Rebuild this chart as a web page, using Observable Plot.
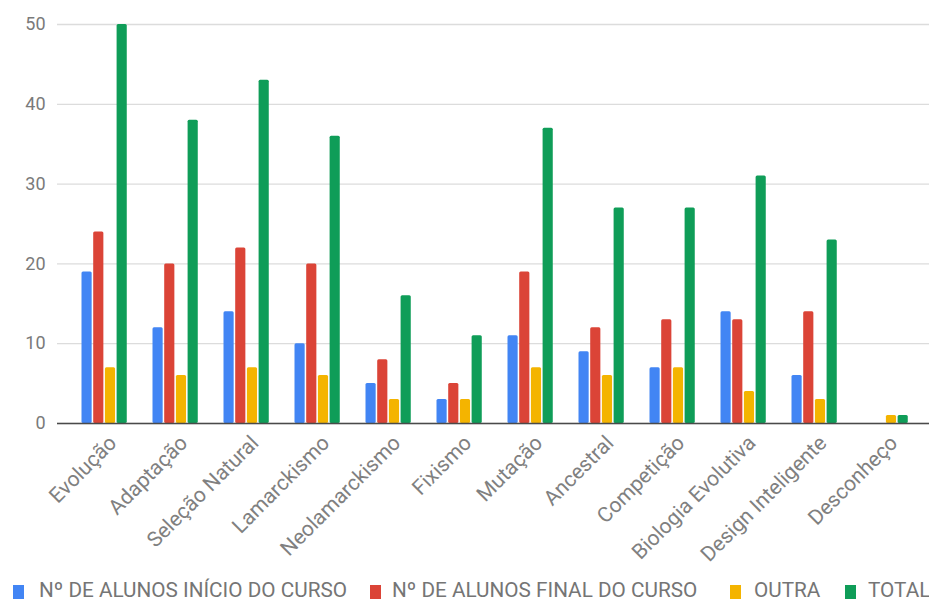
<!DOCTYPE html>
<html>
<head>
<meta charset="utf-8">
<script src="https://cdn.jsdelivr.net/npm/d3@7"></script>
<script src="https://cdn.jsdelivr.net/npm/@observablehq/plot@0.6"></script>
<style>
  body { margin: 0; background: #fff; font-family: Roboto, "Noto Sans", sans-serif; }
  #wrap { position: relative; width: 929px; height: 601px; overflow: hidden; background: #fff; }
  #chart svg { display: block; }
  .legend { position: absolute; left: 0; top: 578px; width: 929px; height: 23px; }
  .sw { position: absolute; width: 11px; height: 14px; top: 7px; }
  .lt { position: absolute; top: 0; font-size: 21px; line-height: 24px; color: #757575; white-space: nowrap; transform-origin: 0 50%; }
</style>
</head>
<body>
<div id="wrap">
  <div id="chart"></div>
  <div class="legend" id="legend"></div>
</div>
<script>
const categories = ["Evolução", "Adaptação", "Seleção Natural", "Lamarckismo", "Neolamarckismo", "Fixismo", "Mutação", "Ancestral", "Competição", "Biologia Evolutiva", "Design Inteligente", "Desconheço"];
const seriesNames = ["Nº DE ALUNOS INÍCIO DO CURSO", "Nº DE ALUNOS FINAL DO CURSO", "OUTRA", "TOTAL"];
const inicio = [19, 12, 14, 10, 5, 3, 11, 9, 7, 14, 6, 0];
const final  = [24, 20, 22, 20, 8, 5, 19, 12, 13, 13, 14, 0];
const outra  = [7, 6, 7, 6, 3, 3, 7, 6, 7, 4, 3, 1];
const total  = [50, 38, 43, 36, 16, 11, 37, 27, 27, 31, 23, 1];
const yTicks = [0, 10, 20, 30, 40, 50];
const colors = ["#4285F4", "#DB4437", "#F4B400", "#0F9D58"];

const seriesValues = [inicio, final, outra, total];
const rows = [];
seriesValues.forEach((vals, s) => {
  vals.forEach((v, i) => rows.push({category: categories[i], series: seriesNames[s], si: s, value: v}));
});

// layout
const W = 929, H = 576;
const mL = 57, mR = 0, mT = 24, mB = H - 423;
const insL = 11.5, insR = 6.9;
const bw = (W - mL - mR - insL - insR) / categories.length;
const barW = 10.3, pitch = 11.7, off0 = 12.5;

const barMarks = seriesNames.map((name, s) => {
  const left = off0 + s * pitch;
  return Plot.barY(rows.filter(d => d.si === s && d.value > 0), {
    x: "category", y: "value", fill: colors[s],
    insetLeft: left, insetRight: bw - left - barW, rx: 1.5
  });
});

const chart = Plot.plot({
  width: W, height: H,
  marginLeft: mL, marginRight: mR, marginTop: mT, marginBottom: mB,
  style: { fontFamily: "Roboto, sans-serif", background: "#fff" },
  x: { domain: categories, padding: 0, insetLeft: insL, insetRight: insR },
  y: { domain: [0, 50] },
  marks: [
    Plot.gridY(yTicks, { stroke: "#dcdcdc", strokeOpacity: 1, strokeWidth: 1.3 }),
    Plot.axisY(yTicks, { tickSize: 0, tickPadding: 12, fontSize: 18, fill: "#7a7a7a", label: null }),
    Plot.axisX({ tickSize: 0, tickPadding: 16, tickRotate: -45, dx: 8, fontSize: 21, fill: "#808080", label: null }),
    ...barMarks,
    Plot.ruleY([0], { stroke: "#4a4a4a", strokeWidth: 1.6 })
  ]
});
document.getElementById("chart").appendChild(chart);

// legend
const legLefts = [39, 392, 754, 868];
const swLefts = [13, 370, 730, 845];
const legend = document.getElementById("legend");
const cv = document.createElement("canvas").getContext("2d");
cv.font = "21px Roboto";
const scale = 308 / cv.measureText(seriesNames[0]).width;
seriesNames.forEach((name, s) => {
  const sw = document.createElement("div");
  sw.className = "sw";
  sw.style.left = swLefts[s] + "px";
  sw.style.background = colors[s];
  legend.appendChild(sw);
  const t = document.createElement("div");
  t.className = "lt";
  t.style.left = legLefts[s] + "px";
  t.style.transform = `scaleX(${scale})`;
  t.textContent = name;
  legend.appendChild(t);
});
</script>
</body>
</html>
